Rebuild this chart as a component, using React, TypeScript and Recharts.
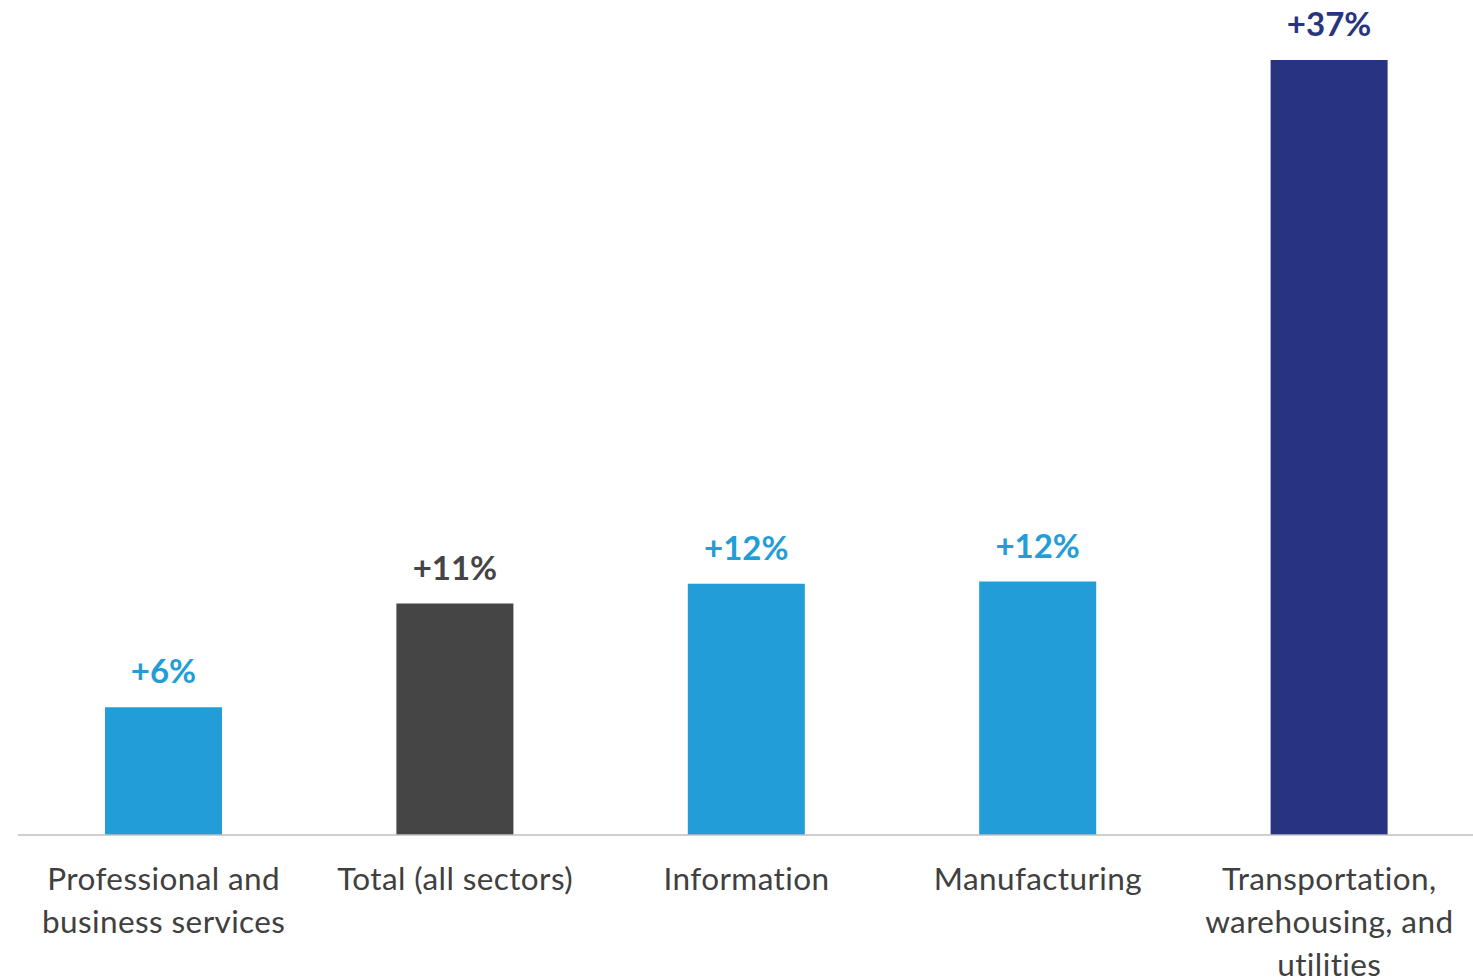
import { Bar, BarChart, Cell, LabelList, XAxis, YAxis } from "recharts";

const categories = [
  "Professional and business services",
  "Total (all sectors)",
  "Information",
  "Manufacturing",
  "Transportation, warehousing, and utilities",
];
const tickLines = [
  ["Professional and", "business services"],
  ["Total (all sectors)"],
  ["Information"],
  ["Manufacturing"],
  ["Transportation,", "warehousing, and", "utilities"],
];
const growth = [6.1, 11.05, 12.0, 12.1, 37.0];
const labels = ["+6%", "+11%", "+12%", "+12%", "+37%"];
const colors = ["#229dd8", "#454545", "#229dd8", "#229dd8", "#283480"];

const data = categories.map((name, i) => ({
  name,
  value: growth[i],
  label: labels[i],
  idx: i,
}));

const FONT = "Lato, 'Open Sans', sans-serif";

function Tick(props: any) {
  const { x, y, index } = props;
  const lines = tickLines[index] ?? [];
  return (
    <text
      x={x}
      y={y}
      textAnchor="middle"
      fill="#404040"
      fontFamily={FONT}
      fontSize={31.5}
      letterSpacing={0.4}
    >
      {lines.map((l, i) => (
        <tspan key={i} x={x} y={y + 47 + i * 43}>
          {l}
        </tspan>
      ))}
    </text>
  );
}

function TopLabel(props: any) {
  const { x, y, width, index } = props;
  return (
    <text
      x={x + width / 2}
      y={y - 24}
      textAnchor="middle"
      fill={colors[index]}
      fontFamily={FONT}
      fontWeight={700}
      fontSize={33}
    >
      {labels[index]}
    </text>
  );
}

export default function App() {
  return (
    <div style={{ position: "fixed", left: 0, top: 0, width: 1473, height: 980, background: "#fff" }}>
      <BarChart
        width={1473}
        height={980}
        data={data}
        margin={{ top: 60, right: -2, left: 18, bottom: 0 }}
        barCategoryGap="20%"
      >
        <YAxis hide domain={[0, 37]} />
        <XAxis
          dataKey="name"
          height={145}
          tickLine={false}
          axisLine={{ stroke: "#bfbfbf", strokeWidth: 1.5 }}
          tick={<Tick />}
          interval={0}
        />
        <Bar dataKey="value" barSize={117} isAnimationActive={false}>
          {data.map((d) => (
            <Cell key={d.name} fill={colors[d.idx]} />
          ))}
          <LabelList dataKey="label" content={<TopLabel />} />
        </Bar>
      </BarChart>
    </div>
  );
}
